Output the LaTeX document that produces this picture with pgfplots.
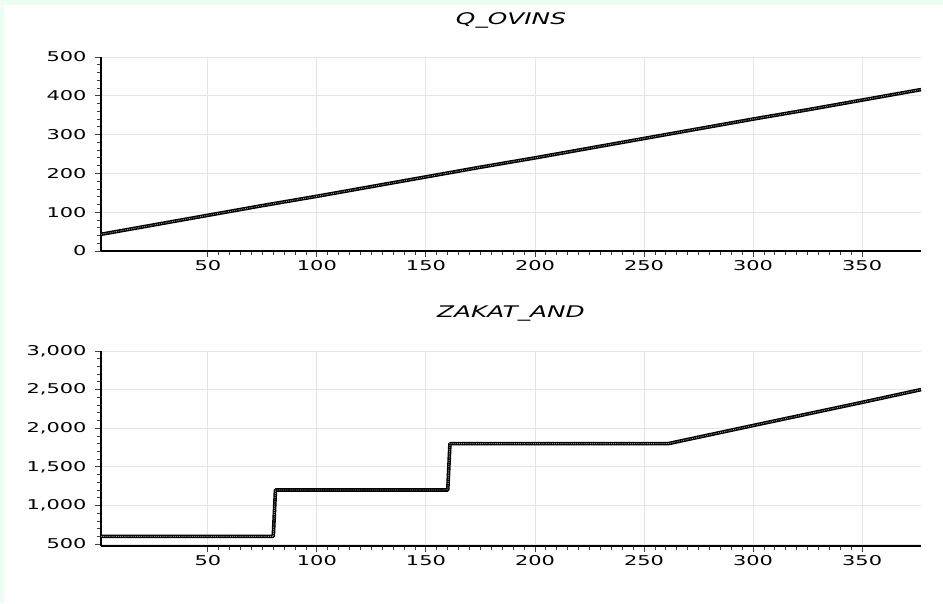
\documentclass[border=0pt]{standalone}
\usepackage{fontspec}
\usepackage{pgfplots}
\pgfplotsset{compat=1.18}
\newfontfamily\tickfont[FakeStretch=1.55]{DejaVu Sans}
\definecolor{mint}{HTML}{ECFDF3}
\pgfplotstableread{
x y
1 43
25 67
50 92
75 117
100 141
125 166
150 191
175 216
200 240
225 265
250 290
275 315
300 340
325 364
350 389
377 416
}\qovins
\pgfplotstableread{
x y
1 600
80 600
81 1200
160 1200
161 1800
261 1800
300 2035
350 2335
377 2500
}\zakat
\pgfplotsset{
  mystyle/.style={
    scale only axis, width=820pt,
    xmin=1, xmax=377,
    axis lines=left, axis line style={-, line width=1.5pt, black},
    tick align=outside,
    xtick={50,100,...,350}, minor x tick num=9,
    grid=major, major grid style={black!10, line width=0.9pt},
    major tick style={black!75, line width=0.9pt},
    minor tick style={black!75, line width=0.8pt},
    major tick length=6pt, minor tick length=4pt,
    ticklabel style={font=\tickfont\fontsize{13.5}{15}\selectfont, text=black},
    yticklabel style={xshift=-5pt},
    /pgf/number format/assume math mode=true,
    /pgf/number format/1000 sep={,},
    title style={at={(0.5,1)}, anchor=base, yshift=27pt, font=\tickfont\fontsize{16}{18}\selectfont\itshape},
    clip=false,
  },
  dataline/.style={black, line width=3.6pt, line join=round},
  dataover/.style={black!40, line width=0.9pt, densely dotted},
}
\begin{document}
\begin{tikzpicture}[x=1pt,y=1pt]
\fill[mint] (0,0) rectangle (943,603);
\fill[white] (4,0) rectangle (943,598);
\path[use as bounding box] (0,0) rectangle (943,603);
\begin{axis}[mystyle, at={(101pt,352pt)}, anchor=south west, height=194pt,
  ymin=0, ymax=500, ytick={0,100,...,500}, minor y tick num=4,
  title={Q\_OVINS}]
\addplot[dataline] table[x=x,y=y] {\qovins};
\addplot[dataover] table[x=x,y=y] {\qovins};
\end{axis}
\begin{axis}[mystyle, at={(101pt,57pt)}, anchor=south west, height=195pt,
  ymin=475, ymax=3000, ytick={500,1000,...,3000}, minor y tick num=4,
  title={ZAKAT\_AND}]
\addplot[dataline] table[x=x,y=y] {\zakat};
\addplot[dataover] table[x=x,y=y] {\zakat};
\end{axis}
\end{tikzpicture}
\end{document}
